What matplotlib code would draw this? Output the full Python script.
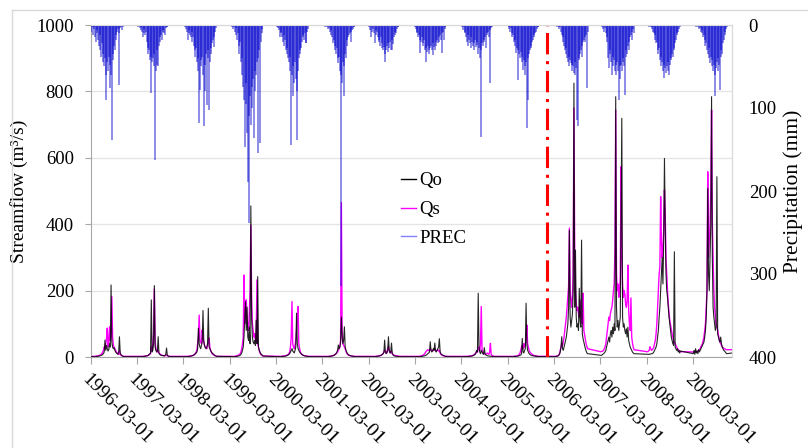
import numpy as np
import matplotlib
matplotlib.use("Agg")
import matplotlib.pyplot as plt
from matplotlib.lines import Line2D
from matplotlib.transforms import ScaledTranslation

plt.rcParams['font.family'] = ['Liberation Serif', 'DejaVu Serif']

# ---------------- data ----------------
YEARS = [1996, 1997, 1998, 1999, 2000, 2001, 2002, 2003, 2004, 2005, 2006, 2007, 2008, 2009]
SEASON_START = "03-01"          # each year's samples start on March 1st
STEP_DAYS = 6                   # one sample every 6 days (45 samples per season)
TICK_LABELS = ["1996-03-01", "1997-03-01", "1998-03-01", "1999-03-01", "2000-03-01",
               "2001-03-01", "2002-03-01", "2003-03-01", "2004-03-01", "2005-03-01",
               "2006-03-01", "2007-03-01", "2008-03-01", "2009-03-01"]
X_START = "1996-03-01"
X_END = "2009-12-31"
SPLIT_DATE = "2006-01-01"
END_QO = 12
END_QS = 22

# precipitation (mm)
PREC_1996 = [0, 8, 3, 12, 5, 2, 15, 20, 6, 10, 18, 25, 12, 30, 38, 22, 45, 35, 50, 40,
             60, 90, 45, 55, 38, 76, 48, 60, 139, 35, 42, 25, 30, 18, 12, 8, 5, 72, 10, 4,
             2, 6, 0, 3, 0]
PREC_1997 = [0, 0, 2, 0, 4, 6, 3, 8, 14, 5, 10, 12, 8, 20, 28, 35, 30, 42, 38, 82,
             45, 40, 50, 35, 163, 55, 48, 30, 50, 25, 20, 15, 12, 18, 8, 6, 10, 12, 4, 3,
             2, 0, 0, 0, 0]
PREC_1998 = [0, 0, 3, 0, 5, 8, 18, 6, 10, 12, 15, 8, 20, 14, 25, 30, 38, 28, 45, 40,
             55, 118, 78, 42, 50, 38, 60, 122, 80, 48, 35, 96, 40, 30, 102, 45, 28, 35, 22, 18,
             26, 15, 8, 4, 0]
PREC_1999 = [0, 0, 0, 3, 0, 5, 2, 8, 4, 12, 18, 10, 25, 35, 20, 45, 60, 40, 75, 90,
             147, 70, 95, 130, 189, 110, 238, 85, 120, 75, 100, 65, 136, 80, 55, 60, 45, 154, 40, 30,
             142, 20, 10, 5, 0]
PREC_2000 = [0, 2, 4, 0, 6, 14, 8, 10, 15, 20, 12, 25, 18, 30, 35, 28, 40, 45, 38, 55,
             145, 60, 86, 50, 70, 45, 65, 80, 139, 55, 40, 35, 30, 28, 20, 15, 12, 18, 10, 22,
             22, 8, 5, 0, 0]
PREC_2001 = [0, 0, 0, 0, 2, 0, 3, 0, 5, 4, 8, 12, 6, 15, 22, 18, 30, 25, 35, 28,
             40, 46, 38, 55, 60, 315, 70, 45, 50, 86, 35, 40, 25, 18, 15, 12, 10, 8, 20, 6,
             5, 3, 2, 0, 0]
PREC_2002 = [0, 2, 6, 14, 3, 8, 5, 10, 22, 6, 12, 8, 15, 18, 20, 25, 15, 28, 22, 30,
             26, 35, 44, 30, 25, 32, 22, 28, 20, 30, 30, 18, 23, 15, 12, 8, 10, 5, 3, 2,
             0, 0, 0, 0, 0]
PREC_2003 = [2, 5, 10, 8, 15, 12, 18, 34, 20, 15, 22, 25, 18, 30, 44, 28, 32, 25, 35, 30,
             28, 25, 30, 36, 22, 26, 30, 20, 25, 18, 22, 15, 20, 12, 18, 10, 34, 8, 18, 5,
             3, 0, 0, 0, 0]
PREC_2004 = [0, 3, 6, 2, 10, 8, 15, 20, 12, 25, 18, 22, 15, 28, 20, 25, 30, 22, 18, 26,
             20, 24, 35, 28, 40, 135, 30, 22, 25, 18, 20, 15, 28, 12, 10, 8, 15, 70, 6, 4,
             3, 0, 0, 0, 0]
PREC_2005 = [0, 2, 5, 8, 4, 10, 15, 12, 20, 25, 18, 34, 28, 66, 30, 35, 40, 32, 45, 38,
             54, 42, 50, 60, 45, 124, 90, 40, 35, 30, 25, 28, 20, 18, 15, 12, 10, 8, 5, 3,
             2, 0, 0, 0, 0]
PREC_2006 = [0, 0, 0, 0, 2, 0, 3, 5, 2, 8, 12, 20, 15, 25, 30, 35, 28, 40, 45, 38,
             50, 42, 46, 55, 48, 50, 58, 45, 60, 52, 114, 122, 40, 42, 35, 30, 38, 25, 20, 18,
             15, 20, 12, 76, 8]
PREC_2007 = [0, 0, 2, 5, 0, 8, 4, 10, 15, 20, 40, 52, 30, 35, 45, 60, 38, 50, 42, 55,
             48, 60, 45, 55, 90, 50, 65, 48, 55, 40, 45, 50, 84, 38, 30, 35, 25, 30, 20, 15,
             12, 18, 8, 5, 10]
PREC_2008 = [0, 0, 0, 2, 0, 3, 5, 2, 8, 10, 12, 18, 22, 20, 30, 35, 28, 42, 38, 50,
             45, 55, 48, 64, 52, 58, 50, 45, 55, 60, 48, 40, 42, 35, 38, 30, 28, 22, 18, 12,
             10, 8, 5, 3, 0]
PREC_2009 = [0, 0, 0, 0, 2, 0, 3, 0, 5, 4, 8, 6, 10, 15, 12, 18, 25, 22, 30, 35,
             28, 40, 46, 38, 50, 42, 55, 48, 86, 60, 52, 45, 55, 40, 48, 78, 38, 30, 35, 22,
             18, 12, 8, 5, 2]

# observed streamflow Qo (m3/s)
QO_1996 = [1, 1, 1, 1, 1, 1, 1, 1, 2, 2, 2, 3, 3, 4, 5, 6, 8, 10, 15, 51,
           20, 35, 25, 18, 22, 40, 30, 217, 45, 30, 25, 28, 20, 15, 12, 10, 8, 15, 61, 12,
           8, 5, 3, 2, 1]
QO_1997 = [1, 1, 1, 1, 1, 1, 1, 1, 1, 2, 2, 2, 3, 3, 4, 5, 8, 10, 12, 172,
           15, 20, 40, 215, 30, 20, 15, 18, 61, 12, 8, 6, 5, 5, 4, 4, 3, 5, 8, 27,
           5, 3, 2, 1, 1]
QO_1998 = [1, 1, 1, 1, 1, 1, 1, 2, 2, 2, 3, 3, 4, 5, 6, 8, 10, 12, 15, 25,
           87, 40, 30, 25, 35, 45, 140, 50, 35, 28, 25, 30, 40, 147, 30, 25, 20, 15, 12, 10,
           8, 6, 4, 3, 2]
QO_1999 = [1, 1, 1, 1, 1, 1, 1, 1, 2, 2, 2, 3, 3, 4, 5, 8, 12, 20, 30, 60,
           120, 167, 80, 150, 60, 50, 90, 40, 455, 120, 60, 45, 40, 50, 35, 111, 40, 242, 30, 20,
           15, 10, 8, 5, 3]
QO_2000 = [1, 1, 1, 1, 1, 1, 1, 1, 2, 2, 2, 2, 3, 3, 4, 5, 6, 8, 10, 15,
           20, 25, 18, 15, 12, 20, 30, 132, 40, 25, 20, 15, 12, 10, 8, 6, 5, 4, 3, 3,
           2, 2, 2, 1, 1]
QO_2001 = [1, 1, 1, 1, 1, 1, 1, 1, 1, 2, 2, 2, 3, 3, 4, 5, 6, 8, 10, 15,
           20, 36, 25, 30, 45, 120, 60, 40, 50, 91, 30, 20, 15, 10, 8, 6, 5, 4, 3, 3,
           2, 2, 2, 1, 1]
QO_2002 = [1, 1, 1, 1, 1, 1, 1, 1, 1, 1, 2, 2, 2, 3, 3, 4, 5, 6, 8, 10,
           15, 51, 12, 10, 15, 20, 61, 18, 12, 15, 42, 10, 6, 4, 3, 3, 2, 2, 2, 1,
           1, 1, 1, 1, 1]
QO_2003 = [1, 1, 1, 1, 1, 1, 1, 1, 2, 2, 2, 3, 3, 4, 5, 6, 8, 10, 12, 15,
           46, 20, 15, 18, 25, 20, 42, 18, 15, 20, 25, 30, 55, 15, 10, 8, 6, 5, 4, 3,
           2, 2, 1, 1, 1]
QO_2004 = [1, 1, 1, 1, 1, 1, 1, 1, 1, 2, 2, 2, 2, 3, 3, 4, 5, 6, 8, 12,
           20, 15, 192, 30, 15, 10, 20, 15, 10, 8, 28, 10, 6, 5, 4, 3, 3, 3, 2, 2,
           2, 1, 1, 1, 1]
QO_2005 = [1, 1, 1, 1, 1, 1, 1, 1, 1, 2, 2, 2, 2, 3, 3, 4, 5, 6, 10, 56,
           15, 12, 20, 25, 162, 40, 20, 15, 10, 8, 6, 5, 4, 4, 3, 3, 3, 2, 2, 2,
           1, 1, 1, 1, 1]
QO_2006 = [1, 1, 1, 2, 2, 3, 5, 8, 15, 30, 61, 25, 20, 30, 40, 50, 60, 80, 100, 150,
           382, 120, 90, 110, 130, 200, 825, 150, 322, 120, 90, 100, 80, 207, 110, 90, 352, 70, 55, 45,
           35, 25, 18, 12, 10]
QO_2007 = [5, 5, 6, 8, 10, 12, 15, 20, 30, 40, 50, 60, 45, 70, 80, 60, 90, 70, 100, 80,
           784, 150, 90, 110, 80, 100, 120, 428, 719, 120, 90, 100, 80, 70, 85, 60, 90, 50, 40, 30,
           25, 20, 15, 12, 10]
QO_2008 = [8, 8, 8, 8, 9, 9, 10, 10, 12, 15, 20, 25, 30, 40, 60, 80, 120, 150, 200, 250,
           300, 220, 350, 598, 400, 250, 200, 180, 150, 120, 100, 80, 60, 50, 40, 35, 317, 30, 25, 20,
           25, 15, 20, 12, 18]
QO_2009 = [10, 20, 8, 25, 12, 18, 10, 22, 15, 20, 25, 30, 35, 40, 45, 60, 80, 120, 200, 508,
           250, 200, 300, 400, 784, 300, 150, 120, 100, 80, 90, 543, 70, 60, 50, 45, 60, 40, 31, 25,
           20, 18, 15, 12, 10]

# simulated streamflow Qs (m3/s)
QS_1996 = [2, 2, 2, 2, 2, 2, 2, 3, 3, 3, 4, 4, 5, 6, 8, 10, 15, 20, 30, 25,
           40, 55, 87, 30, 45, 91, 50, 60, 182, 60, 35, 30, 25, 20, 15, 12, 10, 8, 20, 8,
           5, 4, 3, 2, 2]
QS_1997 = [2, 2, 2, 2, 2, 2, 2, 2, 2, 2, 3, 3, 3, 4, 4, 5, 6, 8, 10, 30,
           20, 42, 70, 205, 45, 25, 18, 15, 20, 12, 10, 8, 6, 5, 5, 4, 4, 4, 5, 6,
           4, 3, 3, 2, 2]
QS_1998 = [2, 2, 2, 2, 2, 2, 2, 2, 3, 3, 3, 4, 4, 5, 6, 8, 10, 15, 20, 40,
           60, 126, 50, 45, 40, 81, 60, 45, 35, 30, 28, 25, 35, 45, 57, 30, 20, 15, 10, 8,
           6, 5, 4, 3, 2]
QS_1999 = [2, 2, 2, 2, 2, 2, 2, 2, 3, 3, 4, 5, 6, 8, 10, 15, 25, 40, 60, 247,
           100, 150, 172, 120, 90, 80, 130, 200, 397, 180, 100, 80, 60, 70, 50, 45, 232, 40, 30, 20,
           12, 8, 6, 4, 3]
QS_2000 = [2, 2, 2, 2, 2, 2, 2, 2, 2, 3, 3, 3, 4, 4, 5, 6, 8, 10, 15, 30,
           60, 167, 40, 30, 25, 35, 50, 80, 120, 152, 40, 25, 15, 10, 8, 6, 5, 4, 4, 3,
           3, 3, 2, 2, 2]
QS_2001 = [2, 2, 2, 2, 2, 2, 2, 2, 2, 2, 3, 3, 3, 4, 4, 5, 6, 8, 10, 12,
           15, 20, 25, 30, 50, 465, 80, 40, 35, 30, 25, 18, 12, 8, 6, 5, 4, 4, 3, 3,
           3, 2, 2, 2, 2]
QS_2002 = [2, 2, 2, 2, 2, 2, 2, 2, 2, 2, 2, 3, 3, 3, 4, 4, 5, 6, 8, 10,
           15, 20, 18, 14, 12, 25, 31, 20, 15, 12, 18, 10, 8, 6, 5, 4, 4, 3, 3, 3,
           2, 2, 2, 2, 2]
QS_2003 = [2, 2, 2, 2, 2, 2, 2, 3, 3, 4, 5, 6, 8, 10, 15, 18, 20, 22, 20, 18,
           25, 22, 20, 18, 20, 22, 25, 20, 18, 20, 22, 18, 20, 12, 8, 6, 5, 4, 3, 3,
           2, 2, 2, 2, 2]
QS_2004 = [2, 2, 2, 2, 2, 2, 2, 2, 2, 2, 3, 3, 3, 4, 4, 5, 6, 8, 10, 12,
           18, 15, 25, 30, 20, 40, 152, 25, 15, 12, 10, 8, 8, 10, 12, 10, 8, 15, 41, 8,
           5, 4, 3, 2, 2]
QS_2005 = [2, 2, 2, 2, 2, 2, 2, 2, 2, 2, 3, 3, 3, 4, 5, 8, 12, 20, 30, 35,
           25, 40, 30, 35, 60, 96, 40, 30, 20, 15, 12, 10, 8, 6, 5, 4, 4, 3, 3, 3,
           2, 2, 2, 2, 2]
QS_2006 = [2, 2, 2, 3, 3, 4, 6, 10, 20, 30, 40, 35, 45, 60, 80, 100, 120, 150, 180, 212,
           388, 200, 170, 150, 180, 250, 750, 300, 200, 160, 140, 150, 130, 120, 172, 140, 110, 100, 192, 80,
           66, 50, 40, 31, 25]
QS_2007 = [16, 16, 17, 18, 20, 25, 30, 40, 60, 80, 100, 120, 110, 130, 142, 150, 170, 200, 220, 322,
           744, 250, 200, 220, 180, 200, 240, 573, 300, 220, 180, 200, 190, 160, 150, 170, 277, 140, 100, 80,
           178, 60, 42, 30, 22]
QS_2008 = [16, 16, 18, 20, 31, 25, 20, 22, 25, 30, 40, 50, 70, 100, 150, 200, 250, 272, 483, 350,
           300, 330, 380, 503, 428, 292, 250, 200, 160, 132, 110, 96, 81, 70, 60, 50, 45, 40, 35, 30,
           26, 22, 20, 18, 16]
QS_2009 = [15, 15, 15, 16, 16, 17, 18, 20, 22, 25, 31, 35, 40, 50, 60, 80, 100, 150, 200, 558,
           300, 350, 400, 500, 744, 400, 300, 202, 150, 120, 100, 91, 80, 66, 55, 45, 40, 35, 30, 28,
           26, 25, 24, 22, 22]

PREC = [PREC_1996, PREC_1997, PREC_1998, PREC_1999, PREC_2000, PREC_2001, PREC_2002,
        PREC_2003, PREC_2004, PREC_2005, PREC_2006, PREC_2007, PREC_2008, PREC_2009]
QO = [QO_1996, QO_1997, QO_1998, QO_1999, QO_2000, QO_2001, QO_2002,
      QO_2003, QO_2004, QO_2005, QO_2006, QO_2007, QO_2008, QO_2009]
QS = [QS_1996, QS_1997, QS_1998, QS_1999, QS_2000, QS_2001, QS_2002,
      QS_2003, QS_2004, QS_2005, QS_2006, QS_2007, QS_2008, QS_2009]

# ---------------- assemble ----------------
dates, prec, qo, qs = [], [], [], []
for y, p, o, s in zip(YEARS, PREC, QO, QS):
    d0 = np.datetime64(f"{y}-{SEASON_START}")
    d = d0 + np.arange(len(p)) * np.timedelta64(STEP_DAYS, "D")
    dates.append(d)
    prec.append(p)
    qo.append(o)
    qs.append(s)
dates = np.concatenate(dates)
prec = np.concatenate(prec)
qo = np.concatenate(qo)
qs = np.concatenate(qs)
q_dates = np.append(dates, np.datetime64(X_END))
qo = np.append(qo, END_QO)
qs = np.append(qs, END_QS)

# ---------------- figure ----------------
W, H = 808, 448
fig = plt.figure(figsize=(W / 100, H / 100), dpi=100)
ax1 = fig.add_axes([90.5 / W, 1 - 357 / H, (732 - 90.5) / W, (357 - 25) / H])
ax2 = ax1.twinx()

FS = 13.5
ax1.plot(q_dates, qs, color="#FF00FF", lw=1.0, zorder=2)
ax1.plot(q_dates, qo, color="black", lw=0.8, alpha=0.85, zorder=3)
ax1.axvline(np.datetime64(SPLIT_DATE), color="#FF0000", lw=2.2,
            dashes=(7, 2.2, 1, 2.2), zorder=4)

ax2.vlines(dates, 0, prec, color="#0000CC", alpha=0.55, lw=1.15)
ax2.axhline(0, color="#2020DD", lw=1.2)

ax1.set_ylim(0, 1000)
ax1.set_yticks(np.arange(0, 1001, 200))
ax2.set_ylim(400, 0)
ax2.set_yticks(np.arange(0, 401, 100))
ax1.set_xlim(np.datetime64(X_START), np.datetime64(X_END))

tick_dates = [np.datetime64(t) for t in TICK_LABELS]
ax1.set_xticks(tick_dates)
ax1.set_xticklabels(TICK_LABELS, rotation=-45, ha="left", va="top",
                    rotation_mode="anchor", fontsize=14)
offset = ScaledTranslation(4 / 100, 0, fig.dpi_scale_trans)
for lbl in ax1.get_xticklabels():
    lbl.set_transform(lbl.get_transform() + offset)

ax1.grid(axis="y", color="#E4E4E4", lw=0.9)
ax1.set_axisbelow(True)

for a in (ax1, ax2):
    for side in ("top", "right"):
        a.spines[side].set_color("#D9D9D9")
    a.spines["left"].set_color("#A6A6A6")
    a.spines["bottom"].set_color("#A6A6A6")
ax2.spines["left"].set_visible(False)
ax2.spines["bottom"].set_visible(False)

ax1.tick_params(axis="y", labelsize=FS, length=4, color="#A6A6A6", pad=8)
ax1.tick_params(axis="x", length=5, color="#A6A6A6", pad=5)
ax2.tick_params(axis="y", labelsize=FS, length=0, pad=12)

ax1.set_ylabel("Streamflow (m³/s)", fontsize=14, labelpad=6)
ax2.set_ylabel("Precipitation (mm)", fontsize=15.5, labelpad=5)

handles = [Line2D([], [], color="black", lw=1.0),
           Line2D([], [], color="#FF00FF", lw=1.0),
           Line2D([], [], color="#8080FF", lw=1.0)]
ax2.legend(handles, ["Qo", "Qs", "PREC"], loc="upper left",
           bbox_to_anchor=(0.458, 0.607), frameon=False, fontsize=FS,
           handlelength=0.8, handletextpad=0.15, labelspacing=0.62)

# chart-area border
fig.add_artist(Line2D([12 / W, 1], [1 - 10 / H, 1 - 10 / H], transform=fig.transFigure,
                      color="#D9D9D9", lw=1))
fig.add_artist(Line2D([12 / W, 12 / W], [0, 1 - 10 / H], transform=fig.transFigure,
                      color="#D9D9D9", lw=1))

fig.savefig("out.png", dpi=100)
